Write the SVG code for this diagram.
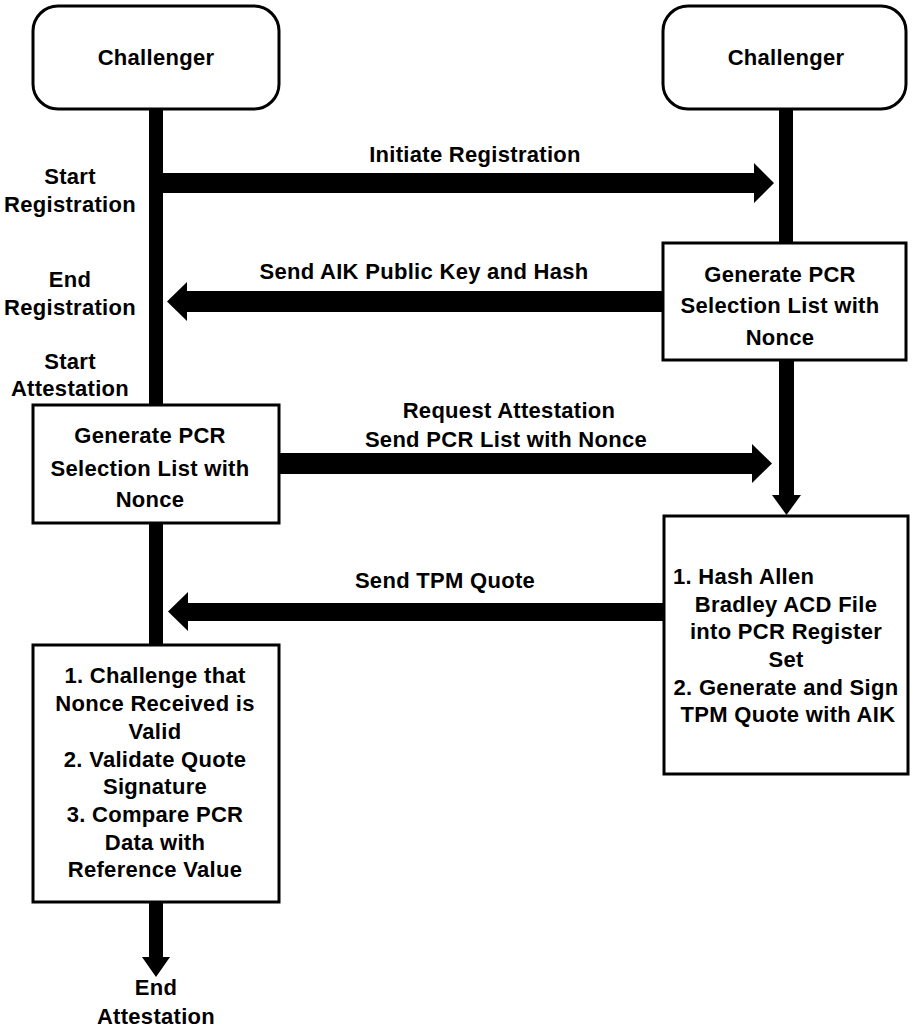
<svg xmlns="http://www.w3.org/2000/svg" width="912" height="1028" viewBox="0 0 912 1028">
  <style>
    .box { fill: #ffffff; stroke: #000000; stroke-width: 3; }
    .bar { fill: #000000; stroke: none; }
    text { font-family: "Liberation Sans", Arial, sans-serif; font-weight: bold; font-size: 22px; fill: #000000; letter-spacing: 0.3px; }
    .c { text-anchor: middle; }
  </style>
  <rect width="912" height="1028" fill="#ffffff"/>

  <!-- lifelines and message arrows -->
  <g id="connectors">
    <rect class="bar" x="149" y="108" width="14" height="298"/>
    <rect class="bar" x="149" y="523" width="14" height="122"/>
    <rect class="bar" x="779" y="108" width="14" height="135"/>
    <polygon class="bar" points="163,173 754,173 754,163 774,183 754,203 754,193 163,193"/>
    <polygon class="bar" points="662,291 187,291 187,282 167,301.5 187,321 187,312 662,312"/>
    <polygon class="bar" points="279,453 752,453 752,444 772,463.5 752,483 752,474 279,474"/>
    <polygon class="bar" points="663,603 188,603 188,592 168,611.5 188,631 188,621 663,621"/>
    <polygon class="bar" points="779,360 794,360 794,495 801,495 786.5,515 772,495 779,495"/>
    <polygon class="bar" points="149,902 163,902 163,957 170,957 156,977 142,957 149,957"/>
  </g>

  <g id="challenger-left">
    <rect class="box" x="33" y="6" width="246" height="103" rx="25" ry="25"/>
    <text class="c" x="156" y="65">Challenger</text>
  </g>

  <g id="challenger-right">
    <rect class="box" x="663" y="6" width="243" height="103" rx="25" ry="25"/>
    <text class="c" x="786" y="65">Challenger</text>
  </g>

  <g id="phase-labels">
    <text class="c" x="70" y="184">Start</text>
    <text class="c" x="70" y="212">Registration</text>
    <text class="c" x="70" y="287">End</text>
    <text class="c" x="70" y="315">Registration</text>
    <text class="c" x="70" y="369">Start</text>
    <text class="c" x="70" y="396">Attestation</text>
    <text class="c" x="156" y="995">End</text>
    <text class="c" x="156" y="1024">Attestation</text>
  </g>

  <g id="message-labels">
    <text class="c" x="475" y="162">Initiate Registration</text>
    <text class="c" x="424" y="279">Send AIK Public Key and Hash</text>
    <text class="c" x="509" y="418">Request Attestation</text>
    <text class="c" x="506" y="447">Send PCR List with Nonce</text>
    <text class="c" x="445" y="588">Send TPM Quote</text>
  </g>

  <g id="pcr-selection-right">
    <rect class="box" x="663" y="243" width="243" height="117"/>
    <text class="c" x="780" y="282">Generate PCR</text>
    <text class="c" x="780" y="313">Selection List with</text>
    <text class="c" x="780" y="345">Nonce</text>
  </g>

  <g id="pcr-selection-left">
    <rect class="box" x="33" y="405" width="246" height="118"/>
    <text class="c" x="150" y="443">Generate PCR</text>
    <text class="c" x="150" y="476">Selection List with</text>
    <text class="c" x="150" y="507">Nonce</text>
  </g>

  <g id="hash-and-quote">
    <rect class="box" x="664" y="516" width="244" height="258"/>
    <text x="673" y="584">1. Hash Allen</text>
    <text class="c" x="786" y="612">Bradley ACD File</text>
    <text class="c" x="786" y="639">into PCR Register</text>
    <text class="c" x="786" y="667">Set</text>
    <text class="c" x="786" y="695">2. Generate and Sign</text>
    <text class="c" x="788" y="722">TPM Quote with AIK</text>
  </g>

  <g id="validate">
    <rect class="box" x="33" y="645" width="246" height="257"/>
    <text class="c" x="155" y="683">1. Challenge that</text>
    <text class="c" x="155" y="711">Nonce Received is</text>
    <text class="c" x="155" y="739">Valid</text>
    <text class="c" x="155" y="767">2. Validate Quote</text>
    <text class="c" x="155" y="794">Signature</text>
    <text class="c" x="155" y="822">3. Compare PCR</text>
    <text class="c" x="155" y="850">Data with</text>
    <text class="c" x="155" y="877">Reference Value</text>
  </g>
</svg>
